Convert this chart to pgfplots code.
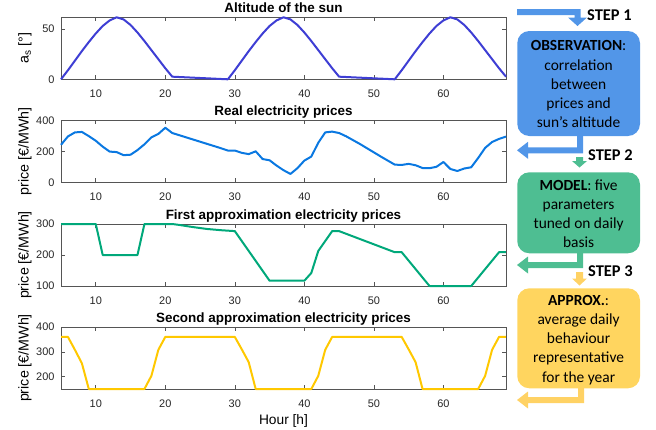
\documentclass[border=0pt]{standalone}
\usepackage{fontspec}
\setmainfont{Liberation Sans}
\newfontfamily\carlito{Carlito}
\usepackage{pgfplots}
\pgfplotsset{compat=1.18}

\definecolor{axgray}{RGB}{85,85,85}
\definecolor{sunblue}{RGB}{62,62,212}
\definecolor{priceblue}{RGB}{10,120,225}
\definecolor{apgreen}{RGB}{0,168,122}
\definecolor{apyellow}{RGB}{255,200,0}
\definecolor{boxblue}{RGB}{82,150,232}
\definecolor{boxgreen}{RGB}{78,190,146}
\definecolor{boxyellow}{RGB}{255,213,95}
\definecolor{arryellow}{RGB}{255,210,100}

\pgfplotsset{
  panel/.style={
    scale only axis, width=445bp, height=62bp,
    xmin=5, xmax=69, xtick={10,20,30,40,50,60},
    tick align=inside, major tick length=4bp,
    axis line style={axgray, line width=0.6bp},
    every tick/.style={axgray, line width=0.6bp},
    tick label style={font=\fontsize{11}{12}\selectfont, text=black!85},
    /pgf/number format/assume math mode=true,
    xticklabel style={yshift=-7.3bp},
    yticklabel style={xshift=-3bp},
    every axis title/.style={at={(axis description cs:0.5,1)}, anchor=base, yshift=4.8bp,
                 font=\fontsize{13.5}{15}\selectfont\bfseries},
    every axis y label/.style={at={(axis description cs:-0.0809,0.5)}, anchor=center, rotate=90,
                 font=\fontsize{14.3}{15}\selectfont},
    clip=false,
    every axis plot/.append style={line width=2bp, line join=round, mark=none},
  }
}

\begin{document}
\begin{tikzpicture}
\path[use as bounding box] (0,0) rectangle (656bp,-430bp);

% Panel 1
\begin{axis}[panel, at={(61bp,-79.3bp)}, anchor=south west,
  ymin=0, ymax=61.6, ytick={0,50},
  title={Altitude of the sun}, ylabel={a\textsubscript{s} [°]}]
\addplot[sunblue] coordinates {
(5,0)(6,9)(7,18.5)(8,28)(9,37)(10,45.5)(11,53)(12,58.5)(13,61.6)(14,59.5)(15,54)(16,46.5)(17,38)(18,29)(19,20)(20,11)(21,2.6)
(29,0)(30,9)(31,18.5)(32,28)(33,37)(34,45.5)(35,53)(36,58.5)(37,61.6)(38,59.5)(39,54)(40,46.5)(41,38)(42,29)(43,20)(44,11)(45,2.6)
(53,0)(54,9)(55,18.5)(56,28)(57,37)(58,45.5)(59,53)(60,58.5)(61,61.6)(62,59.5)(63,54)(64,46.5)(65,38)(66,29)(67,20)(68,11)(69,2.6)};
\end{axis}

% Panel 2
\begin{axis}[panel, at={(61bp,-182.3bp)}, anchor=south west,
  ymin=0, ymax=400, ytick={0,200,400},
  title={Real electricity prices}, ylabel={price [€/MWh]}]
\addplot[priceblue] coordinates {
(5,242)(6,296)(7,322)(8,325)(9,298)(10,268)(11,230)(12,198)(13,195)(14,175)(15,178)(16,208)(17,245)(18,290)(19,312)(20,352)
(21,318)(22,304)(23,290)(24,276)(25,262)(26,248)(27,234)(28,220)(29,205)(30,205)(31,190)(32,182)(33,200)(34,150)(35,142)
(36,108)(37,78)(38,54)(39,91)(40,140)(41,166)(42,255)(43,322)(44,327)(45,318)(46,297)(47,272)(48,247)(49,220)(50,193)
(51,166)(52,140)(53,114)(54,112)(55,119)(56,110)(57,92)(58,91)(59,100)(60,131)(61,86)(62,73)(63,89)(64,97)(65,157)
(66,222)(67,260)(68,280)(69,295)};
\end{axis}

% Panel 3
\begin{axis}[panel, at={(61bp,-286bp)}, anchor=south west,
  ymin=100, ymax=300, ytick={100,200,300},
  title={First approximation electricity prices}, ylabel={price [€/MWh]}]
\addplot[apgreen] coordinates {
(5,300)(10,300)(11,200)(16,200)(17,300)(21,300)(22,297)(24,290)(26,284)(28,280)(30,277)(35,117)(40,117)
(41,142)(42,213)(43,245)(44,277)(45,277)(53,209)(54,209)(58,100)(64,100)(68,209)(69,209)};
\end{axis}

% Panel 4
\begin{axis}[panel, at={(61bp,-389bp)}, anchor=south west,
  ymin=150, ymax=400, ytick={200,300,400},
  title={Second approximation electricity prices}, ylabel={price [€/MWh]},
  xlabel={Hour [h]},
  every axis x label/.style={at={(axis description cs:0.5,-0.567)}, anchor=base,
                font=\fontsize{13.8}{15}\selectfont}]
\addplot[apyellow] coordinates {
(5,360)(6,360)(7,308)(8,254)(9,150)(17,150)(18,203)(19,308)(20,360)(30,360)(31,310)(32,258)(33,150)
(41,150)(42,203)(43,308)(44,360)(54,360)(55,310)(56,258)(57,150)(65,150)(66,203)(67,308)(68,360)(69,360)};
\end{axis}

% Flowchart
\begin{scope}[x=1bp,y=-1bp]
\fill[boxblue, rounded corners=12bp] (517.3,31) rectangle (640,136);
\fill[boxgreen, rounded corners=12bp] (517.3,172.3) rectangle (640,253.3);
\fill[boxyellow, rounded corners=12bp] (517.3,288.3) rectangle (640,388.3);

% arrows
\fill[boxblue] (517,9) -- (580.5,9) -- (580.5,17.5) -- (587,17.5) -- (577.5,26) -- (568,17.5) -- (574.5,17.5) -- (574.5,15) -- (517,15) -- cycle;
\fill[boxblue] (583,136) -- (583,153.3) -- (528,153.3) -- (528,158.8) -- (517,150.3) -- (528,141.8) -- (528,147.3) -- (577,147.3) -- (577,136) -- cycle;
\fill[boxgreen] (576,157) -- (583,157) -- (583,161) -- (587,161) -- (579.5,167.5) -- (572,161) -- (576,161) -- cycle;
\fill[boxgreen] (583,253) -- (583,268) -- (528,268) -- (528,273.5) -- (517,265) -- (528,256.5) -- (528,262) -- (577,262) -- (577,253) -- cycle;
\fill[arryellow] (576,272) -- (583,272) -- (583,278.5) -- (587,278.5) -- (579.5,285.5) -- (572,278.5) -- (576,278.5) -- cycle;
\fill[arryellow] (584,388) -- (584,403) -- (528,403) -- (528,408.5) -- (517,400) -- (528,391.5) -- (528,397) -- (578,397) -- (578,388) -- cycle;

\node[anchor=west, inner sep=0, font=\carlito\bfseries\fontsize{16.5}{18}\selectfont] at (587,15) {STEP 1};
\node[anchor=west, inner sep=0, font=\carlito\bfseries\fontsize{16.5}{18}\selectfont] at (588,155) {STEP 2};
\node[anchor=west, inner sep=0, font=\carlito\bfseries\fontsize{16.5}{18}\selectfont] at (588,271) {STEP 3};

\node[align=center, inner sep=0, font=\carlito\fontsize{15.5}{19.2}\selectfont] at (578.6,84.2)
  {\textbf{OBSERVATION}:\\correlation\\between\\prices and\\sun’s altitude};
\node[align=center, inner sep=0, font=\carlito\fontsize{15.5}{19.2}\selectfont] at (578.6,213.9)
  {\textbf{MODEL}: five\\parameters\\tuned on daily\\basis};
\node[align=center, inner sep=0, font=\carlito\fontsize{15.5}{19.2}\selectfont] at (578.6,340)
  {\textbf{APPROX.}:\\average daily\\behaviour\\representative\\for the year};
\end{scope}
\end{tikzpicture}
\end{document}
